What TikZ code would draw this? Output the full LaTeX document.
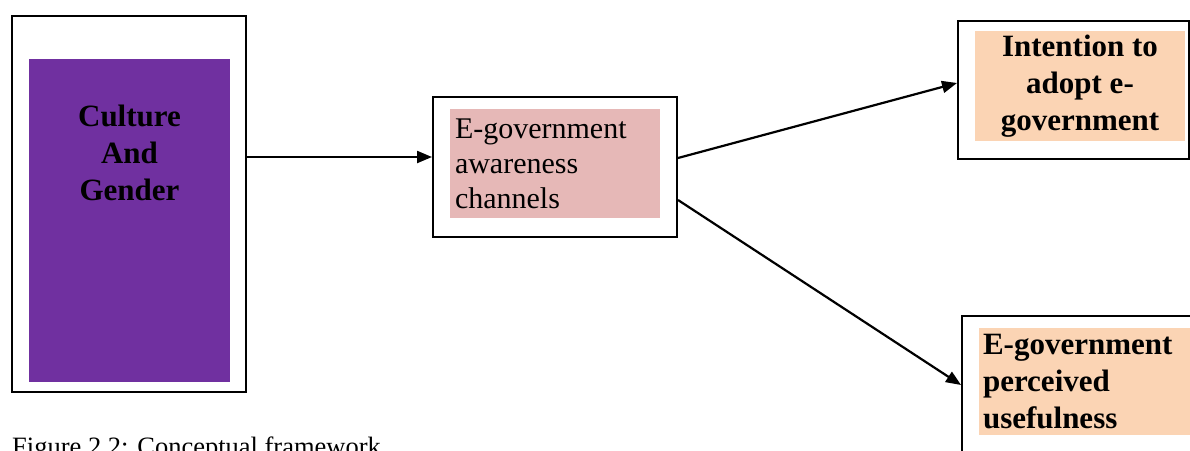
\documentclass[tikz,border=0pt]{standalone}
\usepackage{fontspec}
\setmainfont{Liberation Serif}
\usetikzlibrary{arrows.meta}
\definecolor{cpurple}{HTML}{7030A0}
\definecolor{cpink}{HTML}{E6B8B7}
\definecolor{cpeach}{HTML}{FBD4B4}
\tikzset{
  outerbox/.style={draw, line width=2pt, fill=white, inner sep=0pt},
  fillbox/.style={inner sep=0pt},
  arr/.style={line width=2.2pt, -{Triangle[length=15pt,width=12pt]}},
  boldtxt/.style={font=\fontsize{31}{37}\selectfont\bfseries},
  regtxt/.style={font=\fontsize{30}{35}\selectfont},
}
\begin{document}
\begin{tikzpicture}[x=1pt,y=-1pt]
\useasboundingbox (0,0) rectangle (1190,450);
\clip (0,0) rectangle (1190,450);
% outer boxes
\node[outerbox, minimum width=234pt, minimum height=376pt] (cult) at (129,204) {};
\node[outerbox, minimum width=244pt, minimum height=140pt] (aw) at (555,167) {};
\node[outerbox, minimum width=231pt, minimum height=138pt] (int) at (1073.5,90) {};
\node[outerbox, minimum width=240pt, minimum height=154pt] (use) at (1082,393) {};
% inner fills
\node[fillbox, fill=cpurple, minimum width=201pt, minimum height=323pt] (cultfill) at (129.5,220.5) {};
\node[boldtxt, align=center] (culttext) at (129.5,153) {Culture\\And\\Gender};
\node[fillbox, fill=cpink, regtxt, text width=200pt, inner sep=5pt, minimum height=109pt, align=left] (awfill) at (555,163.5) {E-government\\awareness\\channels};
\node[fillbox, fill=cpeach, boldtxt, minimum width=210pt, minimum height=110pt, align=center] (intfill) at (1080,86) {Intention to\\adopt e-\\government};
\node[fillbox, fill=cpeach, boldtxt, text width=213pt, inner sep=4pt, minimum height=107pt, align=left] (usefill) at (1089.5,381.5) {E-government\\perceived\\usefulness};
% caption
\node[anchor=base west, inner sep=0pt, font=\fontsize{26.5}{30}\selectfont] (cap) at (12,455) {Figure 2.2: Conceptual framework};
% connectors
\draw[arr] ([yshift=47pt]cult.east) -- ([yshift=10pt]aw.west);
\draw[arr] ([yshift=9pt]aw.east) -- ([yshift=7pt]int.west);
\draw[arr] ([yshift=-33pt]aw.east) -- ([yshift=8pt]use.west);
\end{tikzpicture}
\end{document}
